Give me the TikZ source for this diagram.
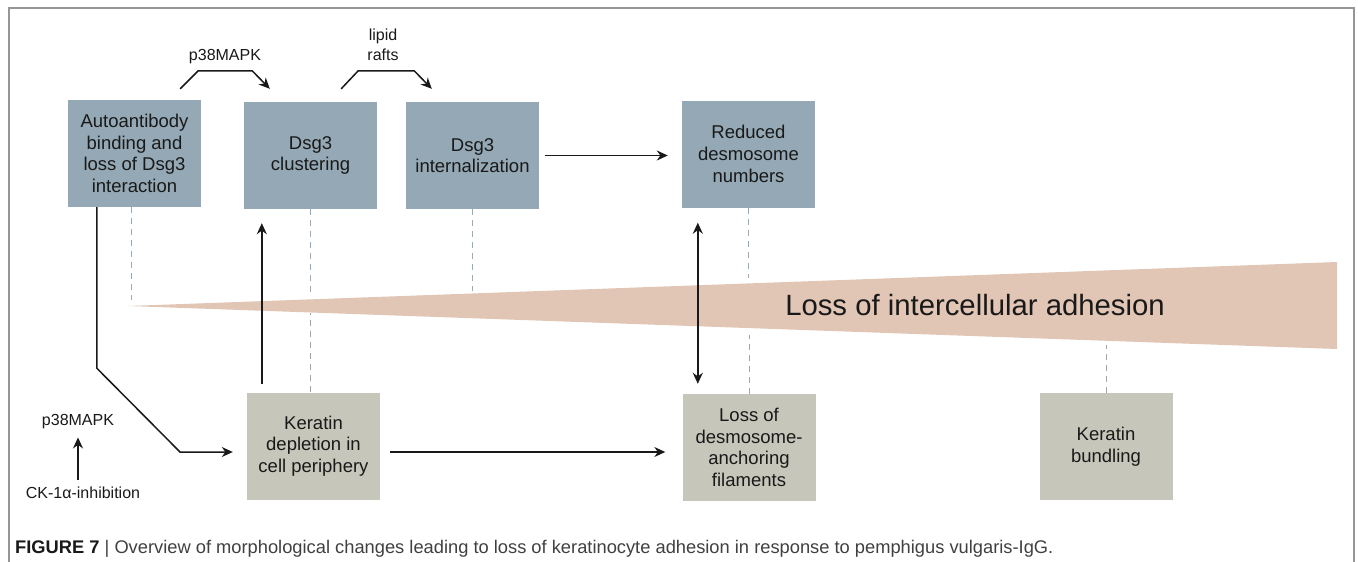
\documentclass[tikz,border=0pt]{standalone}
\usepackage{fontspec}
\setmainfont{Liberation Sans}
\usepackage{tikz}
\usetikzlibrary{arrows.meta, positioning, calc}
\definecolor{boxblue}{RGB}{148, 169, 181}
\definecolor{boxtan}{RGB}{199, 198, 186}
\definecolor{bandpink}{RGB}{225, 197, 181}
\definecolor{dashblue}{RGB}{150, 172, 186}
\definecolor{dashgray}{RGB}{165, 165, 165}
\definecolor{framegray}{RGB}{150, 150, 150}
\definecolor{inkgray}{RGB}{25, 25, 25}

\begin{document}
\begin{tikzpicture}[x=1pt, y=-1pt, >={Stealth[length=11pt, width=10pt]},
    stage/.style={minimum width=133pt, minimum height=107pt, inner sep=0pt, align=center,
                  text=inkgray, font=\fontsize{18.5}{21.7}\selectfont},
    topstage/.style={stage, fill=boxblue},
    lowstage/.style={stage, fill=boxtan},
    note/.style={text=inkgray, align=center, inner sep=1pt, font=\fontsize{16}{20}\selectfont},
    flow/.style={->, line width=1.5pt, inkgray},
    guide/.style={dash pattern=on 6pt off 5pt, line width=1pt}]
    \useasboundingbox (0,0) rectangle (1358,562);
    \draw[framegray, line width=1.5pt] (9,562) -- (9,8) -- (1354,8) -- (1354,562);

    % the wedge
    \fill[bandpink] (128,306) -- (1337,262) -- (1337,349) -- cycle;
    \node[anchor=base, text=inkgray, font=\fontsize{29.3}{35}\selectfont] (loss) at (975,315) {Loss of intercellular adhesion};

    % upper row
    \node[topstage] (auto) at (134.5,153.5) {Autoantibody\\binding and\\loss of Dsg3\\interaction};
    \node[topstage] (clust) at (310.5,155.5) {Dsg3\\clustering};
    \node[topstage] (intern) at (472.5,155.5) {Dsg3\\internalization};
    \node[topstage] (reduced) at (748.5,154) {Reduced\\desmosome\\numbers};

    % lower row
    \node[lowstage] (kdep) at (313.5,446) {Keratin\\depletion in\\cell periphery};
    \node[lowstage] (anchor) at (749,447.5) {Loss of\\desmosome-\\anchoring\\filaments};
    \node[lowstage] (bundle) at (1106,446.5) {Keratin\\bundling};

    % small labels
    \node[note] (kinase) at (225,57) {p38MAPK};
    \node[note] (rafts) at (383,45) {lipid\\rafts};
    \node[note] (p38) at (78,422) {p38MAPK};
    \node[note] (ck) at (83,493) {CK-1α-inhibition};

    % dashed guides to the wedge
    \draw[guide, dashblue] ([xshift=-3.5pt]auto.south) -- ++(0,93);
    \draw[guide, dashblue] (clust.south) -- ++(0,85);
    \draw[guide, dashblue] (intern.south) -- ++(0,82);
    \draw[guide, dashblue] (reduced.south) -- ++(0,70);
    \draw[guide, dashgray] ([xshift=-3.5pt]kdep.north) -- ++(0,-79);
    \draw[guide, dashgray] (anchor.north) -- ++(0,-59);
    \draw[guide, dashgray] (bundle.north) -- ++(0,-48);

    % arrows
    \draw[flow] ($(auto.north east)+(-21,-11)$) -- ++(18,-18) -- ++(54,0) -- ($(clust.north west)+(26,-13)$);
    \draw[flow] ($(clust.north east)+(-36,-13)$) -- ++(17,-18) -- ++(56,0) -- ($(intern.north west)+(26,-13)$);
    \coordinate (bendA) at ($(auto.south west)+(29,161)$);
    \coordinate (bendB) at (180,452);
    \draw[flow, shorten >=14pt] (bendA |- auto.south) -- (bendA) -- (bendB) -- (kdep.west |- bendB);
    \draw[flow, shorten <=10pt, shorten >=17pt] (kdep.east |- bendB) -- (anchor.west |- bendB);
    \draw[flow, shorten <=6pt, shorten >=14pt] (intern.east) -- (reduced.west |- intern.east);
    \draw[flow, shorten <=8pt, shorten >=14pt] ([xshift=15pt]kdep.north west) -- ([xshift=15pt]kdep.north west |- clust.south);
    \draw[flow, <->, shorten <=15pt, shorten >=10pt] ([xshift=16pt]reduced.south west) -- ([xshift=16pt]reduced.south west |- anchor.north);
    \draw[flow, shorten <=6pt, shorten >=7pt] (ck.north -| p38) -- (p38.south);

    % caption
    \node[anchor=base west, inner sep=0pt, text=inkgray, font=\fontsize{18.3}{22}\selectfont] (caption) at (15,553)
        {\textbf{FIGURE 7} {\color{black!75}| Overview of morphological changes leading to loss of keratinocyte adhesion in response to pemphigus vulgaris-IgG.}};
\end{tikzpicture}
\end{document}
